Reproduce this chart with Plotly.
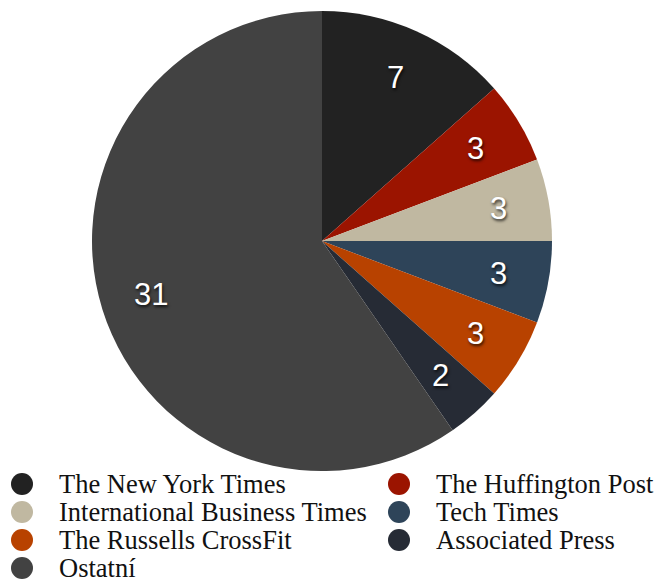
import math
import plotly.graph_objects as go

labels = ["The New York Times", "The Huffington Post", "International Business Times",
          "Tech Times", "The Russells CrossFit", "Associated Press", "Ostatní"]
values = [7, 3, 3, 3, 3, 2, 31]
colors = ["#222222", "#9b1400", "#c0b8a1", "#2e4459", "#b84200", "#262b35", "#424242"]

W, H = 658, 579
CX, CY, R = 322, 241, 230          # pie centre and radius in pixels
dom = dict(x=[(CX - R) / W, (CX + R) / W], y=[(H - CY - R) / H, (H - CY + R) / H])

fig = go.Figure()
fig.add_trace(go.Pie(
    labels=labels, values=values, sort=False, direction="clockwise", rotation=0,
    marker=dict(colors=colors, line=dict(width=0)),
    textinfo="none", domain=dom, showlegend=False, hoverinfo="label+value",
))

annotations = []
# value labels at 0.78 of the radius, at each slice's mid angle (derived from the values)
total = sum(values)
cum = 0
for v in values:
    theta = 2 * math.pi * (cum + v / 2) / total
    cum += v
    px = CX + 0.78 * R * math.sin(theta)
    py = CY - 0.78 * R * math.cos(theta)
    annotations.append(dict(text=str(v), xref="paper", yref="paper",
                            x=px / W, y=1 - py / H, xanchor="center", yanchor="middle",
                            showarrow=False,
                            font=dict(family="Liberation Sans", size=31, color="white",
                                      shadow="1px 2px 3px rgba(0,0,0,0.75)")))

# legend, two columns, row-wise
shapes = []
for i, (name, col) in enumerate(zip(labels, colors)):
    row, c = divmod(i, 2)
    cx = 22 + c * 377
    cy = 484 + row * 28
    shapes.append(dict(type="circle", xref="paper", yref="paper",
                       x0=(cx - 11) / W, x1=(cx + 11) / W,
                       y0=(H - cy - 11) / H, y1=(H - cy + 11) / H,
                       fillcolor=col, line=dict(width=0)))
    annotations.append(dict(text=name, xref="paper", yref="paper",
                            x=(cx + 35) / W, y=(H - cy) / H,
                            xanchor="left", yanchor="middle", showarrow=False,
                            font=dict(family="Liberation Serif", size=26.5, color="#111111")))

fig.update_layout(
    width=W, height=H, margin=dict(l=0, r=0, t=0, b=0),
    paper_bgcolor="white", plot_bgcolor="white",
    shapes=shapes, annotations=annotations,
)
fig.write_html("out.html")
